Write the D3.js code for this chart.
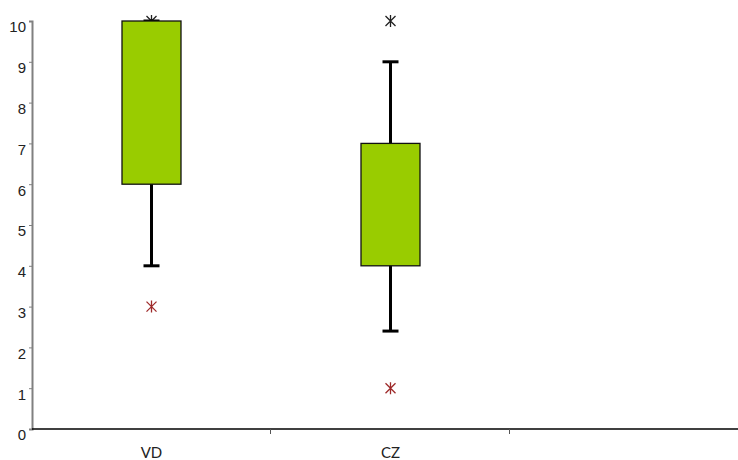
<!DOCTYPE html>
<html>
<head>
<meta charset="utf-8">
<script src="https://cdn.jsdelivr.net/npm/d3@7/dist/d3.min.js"></script>
<style>
  html, body { margin: 0; padding: 0; background: #fff; }
  svg { display: block; font-family: Lato, "Liberation Sans", Arial, sans-serif; }
</style>
</head>
<body>
<svg id="chart" width="738" height="460"></svg>
<script>
// Box-plot summaries per group
const categories = ["VD", "CZ", ""];
const q1Values = [6, 4];
const q3Values = [10, 7];
const whiskerLow = [4, 2.4];
const whiskerHigh = [10, 9];
const outliersHigh = [10, 10];   // extreme values (black asterisks)
const outliersLow = [3, 1];      // outliers (red asterisks)
const yTicks = [0, 1, 2, 3, 4, 5, 6, 7, 8, 9, 10];

const svg = d3.select("#chart");
const W = 738;

const x = d3.scaleBand().domain(categories).range([32, 749]).paddingInner(0).paddingOuter(0);
const y = d3.scaleLinear().domain([0, 10]).range([429, 21]);

const boxW = 59, capW = 16;
const groups = categories.slice(0, 2);

// Y axis
const yAxis = svg.append("g").attr("transform", "translate(32,0)")
  .call(d3.axisLeft(y).tickValues(yTicks).tickSize(3).tickPadding(3).tickFormat(d3.format("d")));
yAxis.select(".domain").attr("stroke", "#808080").attr("stroke-width", 2);
yAxis.selectAll(".tick line").attr("stroke", "#808080");
yAxis.selectAll(".tick text")
  .attr("font-size", 15).attr("fill", "#222")
  .attr("dy", "0.72em").attr("y", 0);

// X axis: baseline, group boundary ticks and centred labels
const xAxis = svg.append("g").attr("transform", `translate(0,${y(0)})`);
xAxis.append("line").attr("x1", 32).attr("x2", W).attr("stroke", "#000").attr("stroke-width", 1.3);
xAxis.selectAll("line.bound").data(categories.slice(1)).join("line")
  .attr("class", "bound")
  .attr("x1", d => x(d) - 0.5).attr("x2", d => x(d) - 0.5)
  .attr("y1", 0).attr("y2", 5).attr("stroke", "#555");
xAxis.selectAll("text").data(groups).join("text")
  .attr("x", d => x(d) + x.bandwidth() / 2)
  .attr("y", 29).attr("text-anchor", "middle")
  .attr("font-size", 15).attr("fill", "#222").text(d => d);

// Asterisk marker
function star(g, cx, cy, color) {
  const r = 5;
  g.append("path")
    .attr("d", `M${cx - r},${cy - r}L${cx + r},${cy + r}M${cx - r},${cy + r}L${cx + r},${cy - r}M${cx},${cy - r - 1}L${cx},${cy + r + 1}`)
    .attr("stroke", color).attr("stroke-width", 1.3).attr("fill", "none");
}

const marks = svg.append("g");
groups.forEach((c, i) => {
  const cx = Math.round(x(c) + x.bandwidth() / 2) - 0.5;
  star(marks, cx, y(outliersHigh[i]), "#222");
  star(marks, cx, y(outliersLow[i]), "#9e2a2a");

  // whiskers
  marks.append("line").attr("x1", cx).attr("x2", cx)
    .attr("y1", y(whiskerLow[i])).attr("y2", y(whiskerHigh[i]))
    .attr("stroke", "#000").attr("stroke-width", 3);
  [whiskerLow[i], whiskerHigh[i]].forEach(v => {
    marks.append("line").attr("x1", cx - capW / 2).attr("x2", cx + capW / 2)
      .attr("y1", y(v)).attr("y2", y(v))
      .attr("stroke", "#000").attr("stroke-width", 3);
  });

  // box
  marks.append("rect")
    .attr("x", cx - boxW / 2).attr("width", boxW)
    .attr("y", y(q3Values[i])).attr("height", y(q1Values[i]) - y(q3Values[i]))
    .attr("fill", "#99cc00").attr("stroke", "#111").attr("stroke-width", 1.3);
});
</script>
</body>
</html>
